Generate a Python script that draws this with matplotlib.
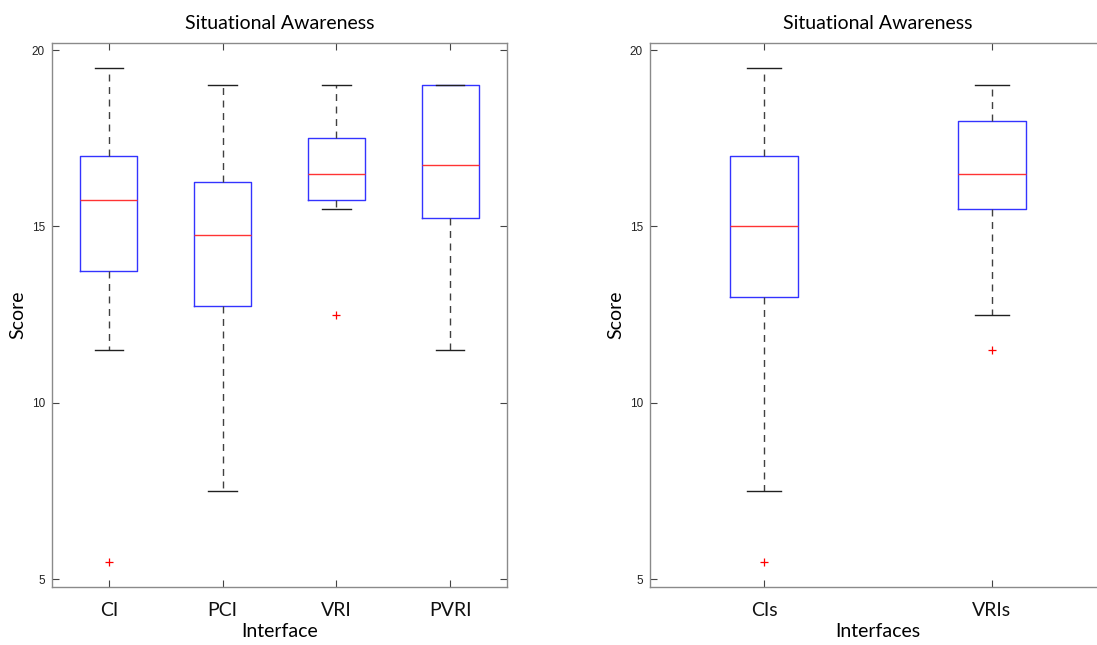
import matplotlib
matplotlib.use("Agg")
import matplotlib.pyplot as plt

# Left chart data
left_labels = ["CI", "PCI", "VRI", "PVRI"]
left_whislo = [11.5, 7.5, 15.5, 11.5]
left_q1 = [13.75, 12.75, 15.75, 15.25]
left_med = [15.75, 14.75, 16.5, 16.75]
left_q3 = [17.0, 16.25, 17.5, 19.0]
left_whishi = [19.5, 19.0, 19.0, 19.0]
left_fliers = [[5.5], [], [12.5], []]

# Right chart data
right_labels = ["CIs", "VRIs"]
right_whislo = [7.5, 12.5]
right_q1 = [13.0, 15.5]
right_med = [15.0, 16.5]
right_q3 = [17.0, 18.0]
right_whishi = [19.5, 19.0]
right_fliers = [[5.5], [11.5]]

y_ticks = [5, 10, 15, 20]
title = "Situational Awareness"

W, H = 1097, 645
fig = plt.figure(figsize=(W / 100, H / 100), dpi=100)

LABEL_FONT = ["Lato", "DejaVu Sans"]
TICK_FONT = ["Liberation Sans", "DejaVu Sans"]


def make_stats(labels, lo, q1, med, q3, hi, fl):
    return [dict(label=l, whislo=a, q1=b, med=c, q3=d, whishi=e, fliers=f)
            for l, a, b, c, d, e, f in zip(labels, lo, q1, med, q3, hi, fl)]


def draw(ax, stats, width, xlabel):
    ax.bxp(stats, positions=range(1, len(stats) + 1), widths=width,
           showfliers=True, patch_artist=False,
           boxprops=dict(color="#3333ff", linewidth=1.0),
           medianprops=dict(color="#ff3333", linewidth=1.0),
           whiskerprops=dict(color="#404040", linewidth=1.0, linestyle=(0, (5, 4))),
           capprops=dict(color="#202020", linewidth=1.0),
           capwidths=width / 2,
           flierprops=dict(marker="+", markeredgecolor="#ff0000",
                           markersize=6, markeredgewidth=0.9, linestyle="none"))
    ax.set_xlim(0.5, len(stats) + 0.5)
    ax.set_ylim(4.78, 20.2)
    ax.set_yticks(y_ticks)
    for s in ax.spines.values():
        s.set_color("#8a8a8a")
        s.set_linewidth(1.0)
    ax.tick_params(direction="in", top=True, right=True, length=5,
                   width=0.8, color="#444444")
    ax.tick_params(axis="y", labelsize=8.5, labelcolor="#222222", pad=5)
    ax.tick_params(axis="x", labelsize=14, labelcolor="#111111", pad=11)
    for t in ax.get_yticklabels():
        t.set_family(TICK_FONT)
    for t in ax.get_xticklabels():
        t.set_family(LABEL_FONT)
    ax.set_title(title, fontsize=14, family=LABEL_FONT, pad=10)
    ax.set_xlabel(xlabel, fontsize=14, family=LABEL_FONT, labelpad=3)
    ax.set_ylabel("Score", fontsize=14, family=LABEL_FONT, labelpad=4)


bottom = (H - 587) / H
top = (H - 43) / H
ax1 = fig.add_axes([52 / W, bottom, (507 - 52) / W, top - bottom])
draw(ax1, make_stats(left_labels, left_whislo, left_q1, left_med, left_q3,
                     left_whishi, left_fliers), 0.5, "Interface")

ax2 = fig.add_axes([650 / W, bottom, 456 / W, top - bottom])
draw(ax2, make_stats(right_labels, right_whislo, right_q1, right_med, right_q3,
                     right_whishi, right_fliers), 0.3, "Interfaces")

fig.savefig("out.png", dpi=100)
